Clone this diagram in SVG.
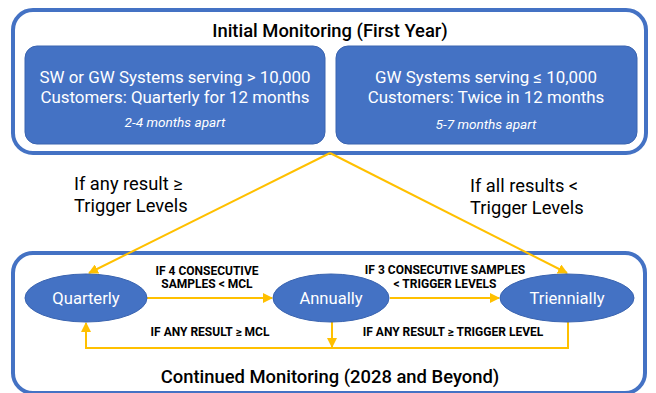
<svg xmlns="http://www.w3.org/2000/svg" width="656" height="393" viewBox="0 0 656 393">
<defs>
<style>
.frame{fill:#fff;stroke:#4472C4;stroke-width:4}
.box{fill:#4472C4;stroke:#3A64B0;stroke-width:1}
.t{font-family:Roboto,"Liberation Sans",sans-serif}
.title{font-size:18.4px;font-weight:500;fill:#000;text-anchor:middle}
.bt{font-size:16.9px;fill:#fff;text-anchor:middle}
.bi{font-size:13.6px;font-style:italic;fill:#fff;text-anchor:middle}
.mid{font-size:18.3px;fill:#000}
.lab{font-size:12px;font-weight:bold;fill:#000;text-anchor:middle}
.node{fill:#4472C4;stroke:#3A64B0;stroke-width:1}
.nt{font-size:16.6px;fill:#fff;text-anchor:middle}
.con{fill:none;stroke:#FFC000;stroke-width:2}
</style>
<marker id="ah" viewBox="0 0 10 10" refX="9" refY="5" markerWidth="5" markerHeight="5" orient="auto" markerUnits="strokeWidth">
<path d="M0,0 L10,5 L0,10 z" fill="#FFC000"/>
</marker>
</defs>

<g id="initial">
<rect class="frame" x="13" y="10" width="633" height="143" rx="20"/>
<text class="t title" x="330" y="37">Initial Monitoring (First Year)</text>
</g>
<g id="box-large">
<rect class="box" x="25" y="46" width="300" height="98" rx="12"/>
<text class="t bt" x="175" y="83">SW or GW Systems serving &gt; 10,000</text>
<text class="t bt" x="175" y="103">Customers: Quarterly for 12 months</text>
<text class="t bi" x="175" y="127">2-4 months apart</text>
</g>
<g id="box-small">
<rect class="box" x="336" y="46" width="301" height="98" rx="12"/>
<text class="t bt" x="486" y="83">GW Systems serving ≤ 10,000</text>
<text class="t bt" x="486" y="103">Customers: Twice in 12 months</text>
<text class="t bi" x="486" y="129">5-7 months apart</text>
</g>

<g id="continued">
<rect class="frame" x="13" y="253" width="632" height="140" rx="20"/>
<text class="t title" x="330" y="383">Continued Monitoring (2028 and Beyond)</text>
</g>

<g id="connectors">
<path class="con" d="M330,153 L89,273" marker-end="url(#ah)"/>
<path class="con" d="M330,153 L567,273" marker-end="url(#ah)"/>
<path class="con" d="M147,298 L272,298" marker-end="url(#ah)"/>
<path class="con" d="M390,298 L499,298" marker-end="url(#ah)"/>
<path class="con" d="M568,322 L568,348 L86,348 L86,323" marker-end="url(#ah)"/>
<path class="con" d="M332,321 L332,347" marker-end="url(#ah)"/>
<text class="t mid" x="74" y="190">If any result ≥</text>
<text class="t mid" x="74" y="212">Trigger Levels</text>
<text class="t mid" x="470" y="192">If all results &lt;</text>
<text class="t mid" x="470" y="214">Trigger Levels</text>
<text class="t lab" x="207" y="275">IF 4 CONSECUTIVE</text>
<text class="t lab" x="207" y="288">SAMPLES &lt; MCL</text>
<text class="t lab" x="445" y="274">IF 3 CONSECUTIVE SAMPLES</text>
<text class="t lab" x="445" y="288">&lt; TRIGGER LEVELS</text>
<text class="t lab" x="210" y="336">IF ANY RESULT ≥ MCL</text>
<text class="t lab" x="453" y="336">IF ANY RESULT ≥ TRIGGER LEVEL</text>
</g>

<g id="quarterly">
<ellipse class="node" cx="86" cy="298" rx="61" ry="24"/>
<text class="t nt" x="86" y="304">Quarterly</text>
</g>
<g id="annually">
<ellipse class="node" cx="331" cy="298" rx="58" ry="24"/>
<text class="t nt" x="331" y="304">Annually</text>
</g>
<g id="triennially">
<ellipse class="node" cx="567" cy="298" rx="67" ry="24"/>
<text class="t nt" x="567" y="304">Triennially</text>
</g>
</svg>
